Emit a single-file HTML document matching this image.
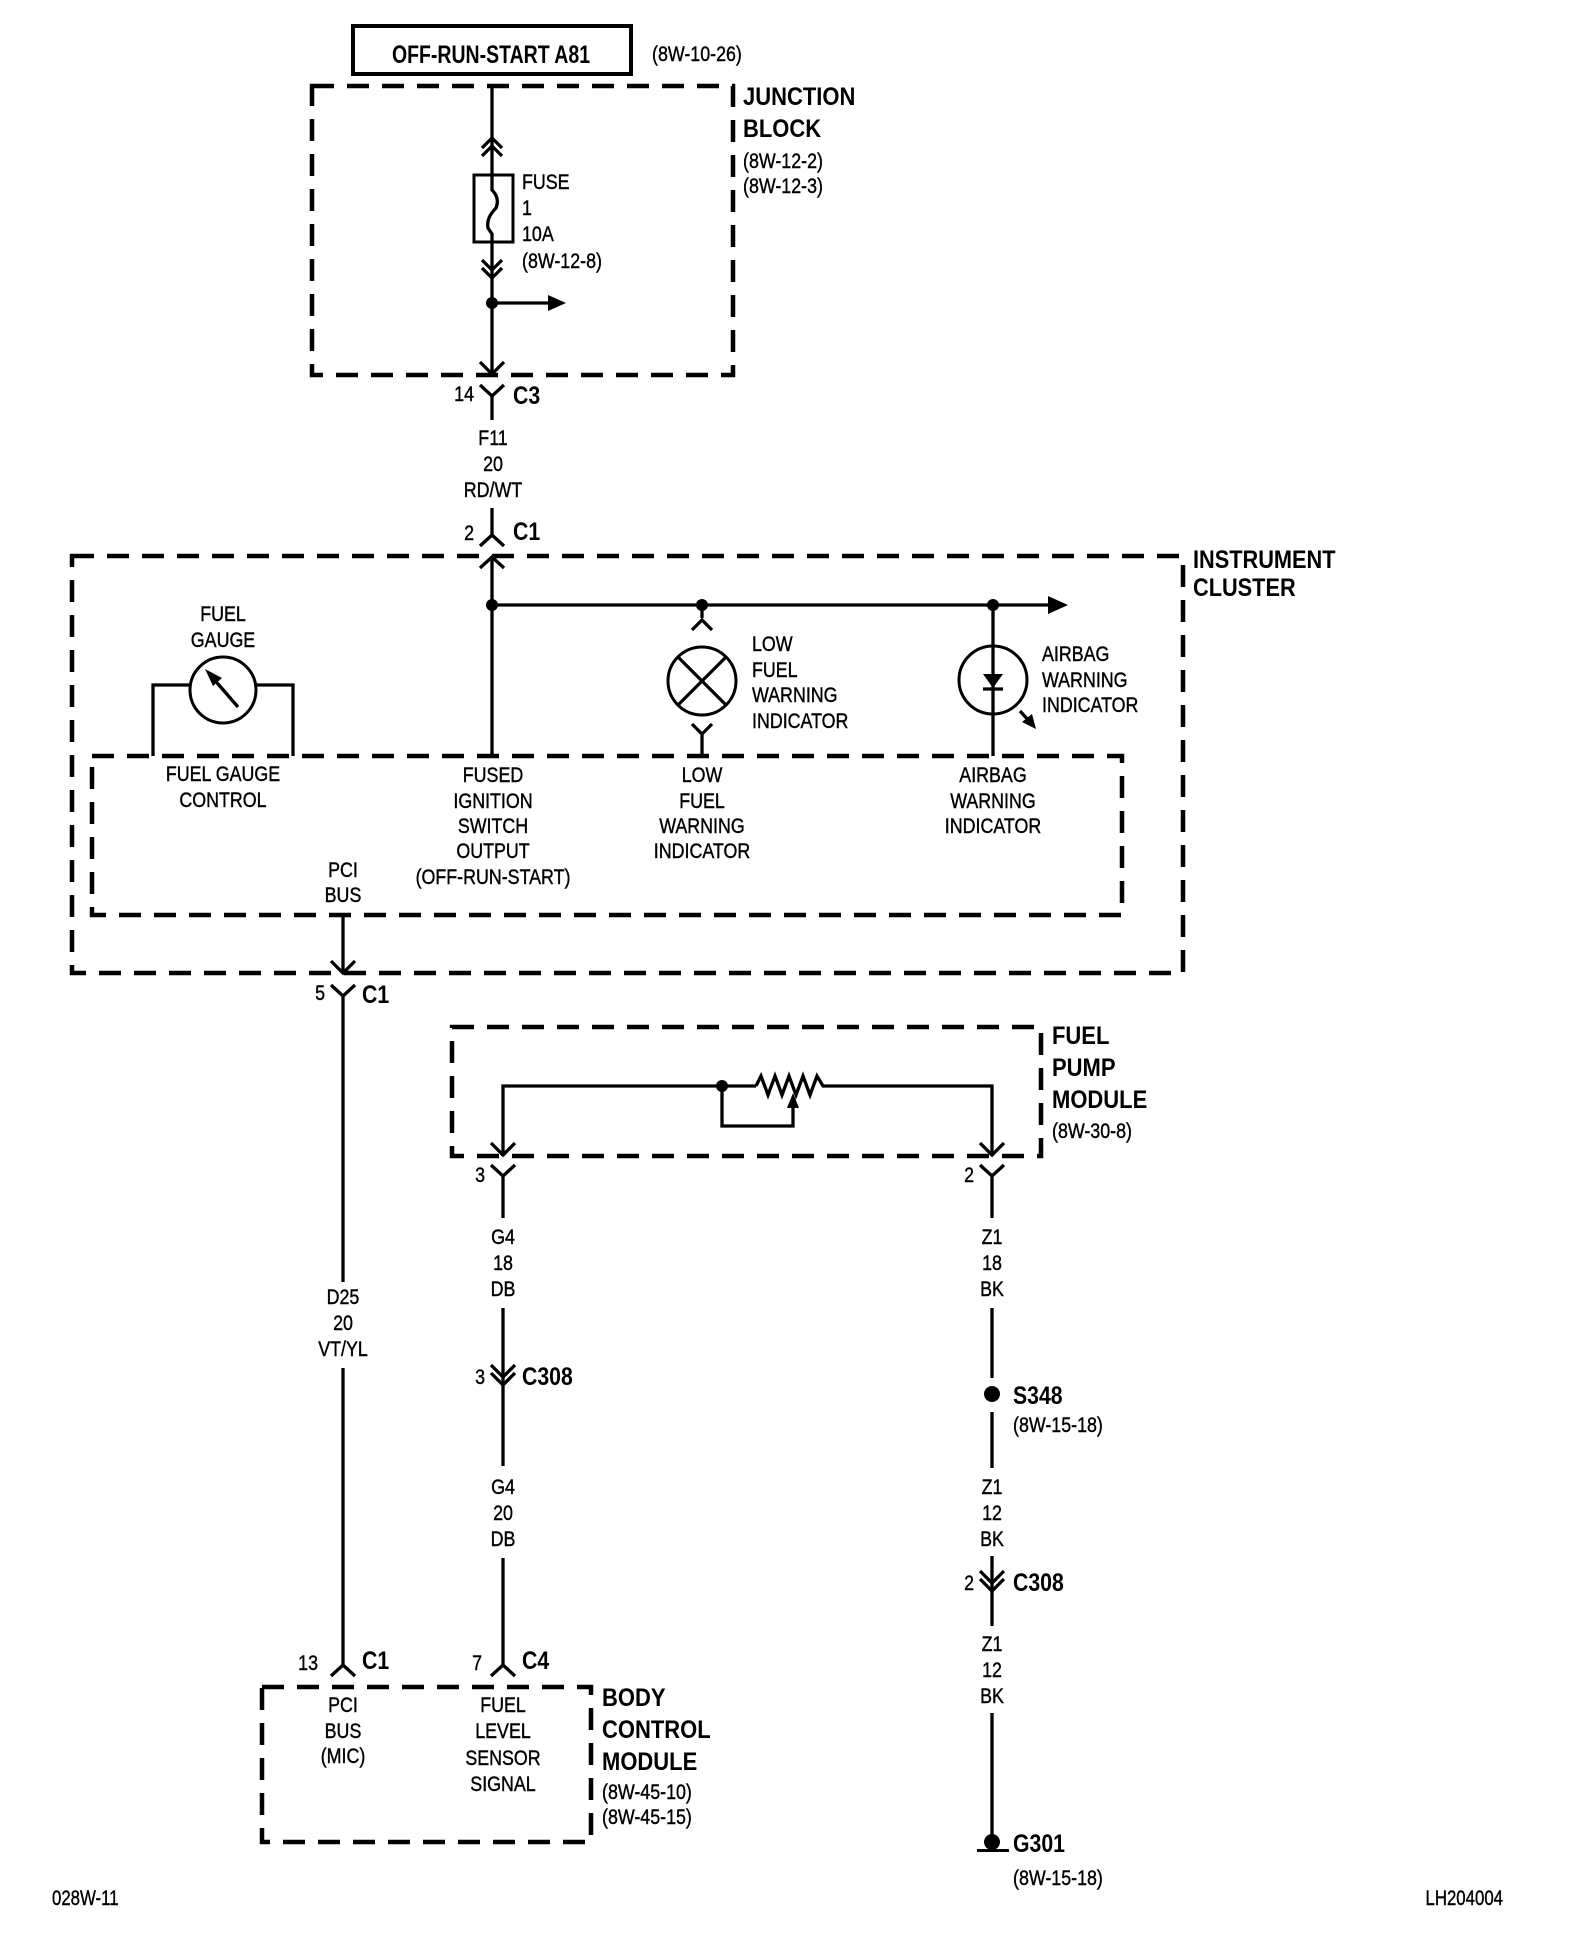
<!DOCTYPE html>
<html><head><meta charset="utf-8"><style>
html,body{margin:0;padding:0;background:#fff}
svg{display:block}
text{font-family:"Liberation Sans",sans-serif;fill:#000}
.s{font-size:21px;stroke:#000;stroke-width:.4}
.b{font-size:25px;font-weight:bold}
.w{stroke:#000;stroke-width:3.3;fill:none}
.d{stroke:#000;stroke-width:4.5;fill:none;stroke-dasharray:22 13}
</style></head><body>
<svg width="1584" height="1956" viewBox="0 0 1584 1956" xmlns="http://www.w3.org/2000/svg">
<rect x="353" y="26" width="278" height="48" fill="none" stroke="#000" stroke-width="4"/>
<text class="b" font-size="29" text-anchor="middle" transform="translate(491,63) scale(.78,1)">OFF-RUN-START A81</text>
<text class="s" transform="translate(652,61) scale(.85,1)">(8W-10-26)</text>

<rect x="312" y="86" width="421" height="289" class="d"/>
<text class="b" transform="translate(743,105) scale(.88,1)">JUNCTION</text>
<text class="b" transform="translate(743,137) scale(.88,1)">BLOCK</text>
<text class="s" transform="translate(743,168) scale(.85,1)">(8W-12-2)</text>
<text class="s" transform="translate(743,193) scale(.85,1)">(8W-12-3)</text>
<line class="w" x1="492" y1="86" x2="492" y2="375"/>
<polyline class="w" points="482,148 492,138 502,148"/>
<polyline class="w" points="482,156 492,146 502,156"/>
<rect x="474" y="175" width="39" height="67" fill="#fff" stroke="#000" stroke-width="3"/>
<path class="w" d="M492,175 L492,190 Q500,198 496,208 Q486,218 488,228 L492,234 L492,242"/>
<polyline class="w" points="482,260 492,270 502,260"/>
<polyline class="w" points="482,268 492,278 502,268"/>
<circle cx="492" cy="303" r="6"/>
<line class="w" x1="492" y1="303" x2="550" y2="303"/>
<polygon points="548,295 566,303 548,311"/>
<polyline class="w" points="480,362 492,374 504,362"/>
<text class="s" transform="translate(522,189) scale(.85,1)">FUSE</text>
<text class="s" transform="translate(522,215) scale(.85,1)">1</text>
<text class="s" transform="translate(522,241) scale(.85,1)">10A</text>
<text class="s" transform="translate(522,268) scale(.85,1)">(8W-12-8)</text>

<polyline class="w" points="480,385 492,396 504,385"/>
<line class="w" x1="492" y1="396" x2="492" y2="420"/>
<text class="s" text-anchor="end" transform="translate(474,401) scale(.85,1)">14</text>
<text class="b" transform="translate(513,404) scale(.85,1)">C3</text>
<text class="s" text-anchor="middle" transform="translate(493,445) scale(.85,1)">F11</text>
<text class="s" text-anchor="middle" transform="translate(493,471) scale(.85,1)">20</text>
<text class="s" text-anchor="middle" transform="translate(493,497) scale(.85,1)">RD/WT</text>
<line class="w" x1="492" y1="508" x2="492" y2="535"/>
<polyline class="w" points="480,546 492,535 504,546"/>
<text class="s" text-anchor="end" transform="translate(474,540) scale(.85,1)">2</text>
<text class="b" transform="translate(513,540) scale(.85,1)">C1</text>

<rect x="72" y="556" width="1111" height="417" class="d"/>
<text class="b" transform="translate(1193,568) scale(.87,1)">INSTRUMENT</text>
<text class="b" transform="translate(1193,596) scale(.87,1)">CLUSTER</text>
<rect x="92" y="756" width="1030" height="159" class="d"/>
<polyline class="w" points="480,568 492,557 504,568"/>
<line class="w" x1="492" y1="557" x2="492" y2="756"/>
<line class="w" x1="492" y1="605" x2="1050" y2="605"/>
<polygon points="1048,596 1068,605 1048,614"/>
<circle cx="492" cy="605" r="6"/>
<circle cx="702" cy="605" r="6"/>
<circle cx="993" cy="605" r="6"/>

<circle cx="223" cy="690" r="33" fill="none" stroke="#000" stroke-width="3"/>
<polyline class="w" points="190,685 153,685 153,756"/>
<polyline class="w" points="256,685 293,685 293,756"/>
<line class="w" x1="238" y1="707" x2="212" y2="677"/>
<polygon points="205,669 222,678 213,686"/>
<text class="s" text-anchor="middle" transform="translate(223,621) scale(.85,1)">FUEL</text>
<text class="s" text-anchor="middle" transform="translate(223,647) scale(.85,1)">GAUGE</text>

<line class="w" x1="702" y1="605" x2="702" y2="618"/>
<polyline class="w" points="692,630 702,620 712,630"/>
<circle cx="702" cy="681" r="34" fill="none" stroke="#000" stroke-width="3"/>
<line class="w" x1="678" y1="657" x2="726" y2="705"/>
<line class="w" x1="726" y1="657" x2="678" y2="705"/>
<polyline class="w" points="692,724 702,734 712,724"/>
<line class="w" x1="702" y1="734" x2="702" y2="756"/>
<text class="s" transform="translate(752,651) scale(.85,1)">LOW</text>
<text class="s" transform="translate(752,677) scale(.85,1)">FUEL</text>
<text class="s" transform="translate(752,702) scale(.85,1)">WARNING</text>
<text class="s" transform="translate(752,728) scale(.85,1)">INDICATOR</text>

<line class="w" x1="993" y1="605" x2="993" y2="756"/>
<circle cx="993" cy="680" r="34" fill="none" stroke="#000" stroke-width="3"/>
<polygon points="983,674 1003,674 993,688"/>
<line class="w" x1="983" y1="689" x2="1003" y2="689"/>
<line class="w" x1="1020" y1="711" x2="1030" y2="722"/>
<polygon points="1022,722 1036,729 1032,714"/>
<text class="s" transform="translate(1042,661) scale(.85,1)">AIRBAG</text>
<text class="s" transform="translate(1042,687) scale(.85,1)">WARNING</text>
<text class="s" transform="translate(1042,712) scale(.85,1)">INDICATOR</text>

<text class="s" text-anchor="middle" transform="translate(223,781) scale(.85,1)">FUEL GAUGE</text>
<text class="s" text-anchor="middle" transform="translate(223,807) scale(.85,1)">CONTROL</text>
<text class="s" text-anchor="middle" transform="translate(493,782) scale(.85,1)">FUSED</text>
<text class="s" text-anchor="middle" transform="translate(493,808) scale(.85,1)">IGNITION</text>
<text class="s" text-anchor="middle" transform="translate(493,833) scale(.85,1)">SWITCH</text>
<text class="s" text-anchor="middle" transform="translate(493,858) scale(.85,1)">OUTPUT</text>
<text class="s" text-anchor="middle" transform="translate(493,884) scale(.85,1)">(OFF-RUN-START)</text>
<text class="s" text-anchor="middle" transform="translate(702,782) scale(.85,1)">LOW</text>
<text class="s" text-anchor="middle" transform="translate(702,808) scale(.85,1)">FUEL</text>
<text class="s" text-anchor="middle" transform="translate(702,833) scale(.85,1)">WARNING</text>
<text class="s" text-anchor="middle" transform="translate(702,858) scale(.85,1)">INDICATOR</text>
<text class="s" text-anchor="middle" transform="translate(993,782) scale(.85,1)">AIRBAG</text>
<text class="s" text-anchor="middle" transform="translate(993,808) scale(.85,1)">WARNING</text>
<text class="s" text-anchor="middle" transform="translate(993,833) scale(.85,1)">INDICATOR</text>
<text class="s" text-anchor="middle" transform="translate(343,877) scale(.85,1)">PCI</text>
<text class="s" text-anchor="middle" transform="translate(343,902) scale(.85,1)">BUS</text>

<line class="w" x1="343" y1="915" x2="343" y2="973"/>
<polyline class="w" points="331,961 343,973 355,961"/>
<polyline class="w" points="331,985 343,996 355,985"/>
<line class="w" x1="343" y1="996" x2="343" y2="1282"/>
<text class="s" text-anchor="end" transform="translate(325,1000) scale(.85,1)">5</text>
<text class="b" transform="translate(362,1003) scale(.85,1)">C1</text>
<text class="s" text-anchor="middle" transform="translate(343,1304) scale(.85,1)">D25</text>
<text class="s" text-anchor="middle" transform="translate(343,1330) scale(.85,1)">20</text>
<text class="s" text-anchor="middle" transform="translate(343,1356) scale(.85,1)">VT/YL</text>
<line class="w" x1="343" y1="1368" x2="343" y2="1666"/>
<polyline class="w" points="331,1676 343,1665 355,1676"/>
<text class="s" text-anchor="end" transform="translate(318,1670) scale(.85,1)">13</text>
<text class="b" transform="translate(362,1669) scale(.85,1)">C1</text>

<rect x="452" y="1027" width="589" height="129" class="d"/>
<text class="b" transform="translate(1052,1044) scale(.88,1)">FUEL</text>
<text class="b" transform="translate(1052,1076) scale(.88,1)">PUMP</text>
<text class="b" transform="translate(1052,1108) scale(.88,1)">MODULE</text>
<text class="s" transform="translate(1052,1138) scale(.85,1)">(8W-30-8)</text>
<polyline class="w" points="503,1156 503,1086 756,1086"/>
<polyline class="w" points="756,1086 761,1076 768,1095 775,1076 782,1095 789,1076 796,1095 803,1076 810,1095 817,1076 823,1086 992,1086 992,1156"/>
<circle cx="722" cy="1086" r="6"/>
<polyline class="w" points="722,1086 722,1126 793,1126 793,1106"/>
<polygon points="787,1108 793,1093 799,1108"/>
<polyline class="w" points="491,1143 503,1155 515,1143"/>
<polyline class="w" points="980,1143 992,1155 1004,1143"/>
<polyline class="w" points="491,1165 503,1176 515,1165"/>
<polyline class="w" points="980,1165 992,1176 1004,1165"/>
<line class="w" x1="503" y1="1176" x2="503" y2="1218"/>
<line class="w" x1="992" y1="1176" x2="992" y2="1218"/>
<text class="s" text-anchor="end" transform="translate(485,1182) scale(.85,1)">3</text>
<text class="s" text-anchor="end" transform="translate(974,1182) scale(.85,1)">2</text>

<text class="s" text-anchor="middle" transform="translate(503,1244) scale(.85,1)">G4</text>
<text class="s" text-anchor="middle" transform="translate(503,1270) scale(.85,1)">18</text>
<text class="s" text-anchor="middle" transform="translate(503,1296) scale(.85,1)">DB</text>
<line class="w" x1="503" y1="1308" x2="503" y2="1466"/>
<polyline class="w" points="491,1365 503,1377 515,1365"/>
<polyline class="w" points="491,1373 503,1385 515,1373"/>
<text class="s" text-anchor="end" transform="translate(485,1384) scale(.85,1)">3</text>
<text class="b" transform="translate(522,1385) scale(.85,1)">C308</text>
<text class="s" text-anchor="middle" transform="translate(503,1494) scale(.85,1)">G4</text>
<text class="s" text-anchor="middle" transform="translate(503,1520) scale(.85,1)">20</text>
<text class="s" text-anchor="middle" transform="translate(503,1546) scale(.85,1)">DB</text>
<line class="w" x1="503" y1="1558" x2="503" y2="1666"/>
<polyline class="w" points="491,1676 503,1665 515,1676"/>
<text class="s" text-anchor="end" transform="translate(482,1670) scale(.85,1)">7</text>
<text class="b" transform="translate(522,1669) scale(.85,1)">C4</text>

<rect x="262" y="1687" width="329" height="155" class="d"/>
<text class="b" transform="translate(602,1706) scale(.88,1)">BODY</text>
<text class="b" transform="translate(602,1738) scale(.88,1)">CONTROL</text>
<text class="b" transform="translate(602,1770) scale(.88,1)">MODULE</text>
<text class="s" transform="translate(602,1799) scale(.85,1)">(8W-45-10)</text>
<text class="s" transform="translate(602,1824) scale(.85,1)">(8W-45-15)</text>
<text class="s" text-anchor="middle" transform="translate(343,1712) scale(.85,1)">PCI</text>
<text class="s" text-anchor="middle" transform="translate(343,1738) scale(.85,1)">BUS</text>
<text class="s" text-anchor="middle" transform="translate(343,1763) scale(.85,1)">(MIC)</text>
<text class="s" text-anchor="middle" transform="translate(503,1712) scale(.85,1)">FUEL</text>
<text class="s" text-anchor="middle" transform="translate(503,1738) scale(.85,1)">LEVEL</text>
<text class="s" text-anchor="middle" transform="translate(503,1765) scale(.85,1)">SENSOR</text>
<text class="s" text-anchor="middle" transform="translate(503,1791) scale(.85,1)">SIGNAL</text>

<text class="s" text-anchor="middle" transform="translate(992,1244) scale(.85,1)">Z1</text>
<text class="s" text-anchor="middle" transform="translate(992,1270) scale(.85,1)">18</text>
<text class="s" text-anchor="middle" transform="translate(992,1296) scale(.85,1)">BK</text>
<line class="w" x1="992" y1="1308" x2="992" y2="1378"/>
<circle cx="992" cy="1394" r="8"/>
<text class="b" transform="translate(1013,1404) scale(.85,1)">S348</text>
<text class="s" transform="translate(1013,1432) scale(.85,1)">(8W-15-18)</text>
<line class="w" x1="992" y1="1412" x2="992" y2="1468"/>
<text class="s" text-anchor="middle" transform="translate(992,1494) scale(.85,1)">Z1</text>
<text class="s" text-anchor="middle" transform="translate(992,1520) scale(.85,1)">12</text>
<text class="s" text-anchor="middle" transform="translate(992,1546) scale(.85,1)">BK</text>
<line class="w" x1="992" y1="1556" x2="992" y2="1626"/>
<polyline class="w" points="980,1571 992,1583 1004,1571"/>
<polyline class="w" points="980,1579 992,1591 1004,1579"/>
<text class="s" text-anchor="end" transform="translate(974,1590) scale(.85,1)">2</text>
<text class="b" transform="translate(1013,1591) scale(.85,1)">C308</text>
<text class="s" text-anchor="middle" transform="translate(992,1651) scale(.85,1)">Z1</text>
<text class="s" text-anchor="middle" transform="translate(992,1677) scale(.85,1)">12</text>
<text class="s" text-anchor="middle" transform="translate(992,1703) scale(.85,1)">BK</text>
<line class="w" x1="992" y1="1713" x2="992" y2="1838"/>
<circle cx="992" cy="1842" r="8"/>
<rect x="977" y="1849" width="32" height="3"/>
<text class="b" transform="translate(1013,1852) scale(.85,1)">G301</text>
<text class="s" transform="translate(1013,1885) scale(.85,1)">(8W-15-18)</text>

<text class="s" transform="translate(52,1905) scale(.8,1)">028W-11</text>
<text class="s" text-anchor="end" transform="translate(1503,1905) scale(.8,1)">LH204004</text>
</svg>
</body></html>
